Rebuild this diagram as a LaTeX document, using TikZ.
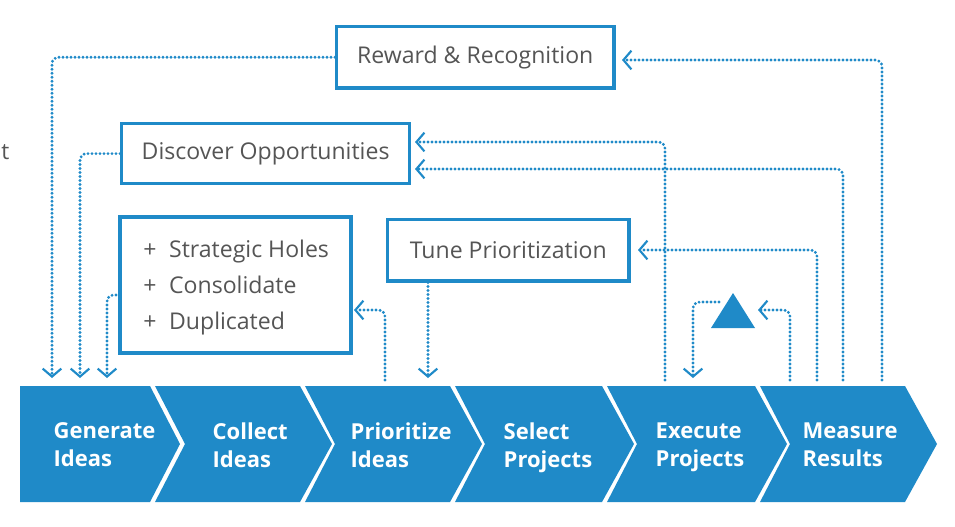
\documentclass[tikz,border=0pt]{standalone}
\usepackage{fontspec}
\setmainfont{Open Sans}
\usetikzlibrary{arrows.meta}
\definecolor{bl}{HTML}{1F8AC8}
\definecolor{tx}{HTML}{555555}
\begin{document}
\begin{tikzpicture}[x=0.75pt,y=-0.75pt,
  box/.style={draw=bl,line width=2.4pt,text=tx,font=\fontsize{17.3}{20}\selectfont,inner sep=0pt,anchor=north west},
  lnk/.style={draw=bl,line width=2.4pt,line cap=round,dash pattern=on 0pt off 3pt,rounded corners=5pt,
    -{Straight Barb[length=6pt,width=14pt,line width=1.6pt]}},
  lab/.style={text=white,font=\fontsize{16.5}{21}\selectfont\bfseries,align=left,anchor=west,text depth=0pt}]
\useasboundingbox (0,0) rectangle (955,526);
\node[anchor=west,text=tx,font=\fontsize{17}{18}\selectfont,inner sep=0pt] (t) at (1,152) {t};
% chevrons
\fill[bl] (20,386) -- (150,386) -- (180,444) -- (150,502) -- (20,502) -- cycle;
\foreach \a/\b in {155/300,305/450,455/602,607/755,760/905}
  \fill[bl] (\a,386) -- (\b,386) -- (\b+32,444) -- (\b,502) -- (\a,502) -- (\a+30,444) -- cycle;
\node[lab] (c1) at (49,445) {Generate\\Ideas};
\node[lab] (c2) at (208,445) {Collect\\Ideas};
\node[lab] (c3) at (346,445) {Prioritize\\Ideas};
\node[lab] (c4) at (499,445) {Select\\Projects};
\node[lab] (c5) at (651,445) {Execute\\Projects};
\node[lab] (c6) at (798,445) {Measure\\Results};
% boxes
\node[box,minimum width=208pt,minimum height=46pt] (rr) at (335,25) {Reward \& Recognition};
\node[box,minimum width=216pt,minimum height=45pt] (do) at (120,122) {Discover Opportunities};
\draw[bl,line width=2.4pt] (120,217) rectangle (351,353);
\node[anchor=west,text=tx,font=\fontsize{17.3}{20}\selectfont,align=left,inner sep=0pt] (sh) at (143,287)
  {+\hspace{0.55em}Strategic Holes\\[7pt]+\hspace{0.55em}Consolidate\\[7pt]+\hspace{0.55em}Duplicated};
\node[box,minimum width=181pt,minimum height=46pt] (tp) at (386,218) {Tune Prioritization};
\fill[bl] (733,293) -- (755,328) -- (711,328) -- cycle;
\node[inner sep=0pt] (tri) at (733,315) {};
% coordinates
\coordinate (g1) at (52,378); \coordinate (g2) at (80,378); \coordinate (g3) at (107,378);
\coordinate (p3) at (385,380); \coordinate (p4) at (428,378);
\coordinate (e1) at (665,380); \coordinate (e2) at (693,378);
\coordinate (m1) at (790,380); \coordinate (m2) at (817,380);
\coordinate (m3) at (843,380); \coordinate (m4) at (882,380);
% links
\draw[lnk] (rr.west) -| (g1);
\draw[lnk] (do.west) -| (g2);
\draw[lnk] (120,295) -| (g3);
\draw[lnk] (p3) |- (354,310);
\draw[lnk] (tp.south -| p4) -- (p4);
\draw[lnk] (e1) |- (415,142);
\draw[lnk] (m3) |- (415,169);
\draw[lnk] (m2) |- (638,250);
\draw[lnk] (m4) |- (622,60);
\draw[lnk] (719,302) -| (e2);
\draw[lnk] (m1) |- (758,310);
\end{tikzpicture}
\end{document}
